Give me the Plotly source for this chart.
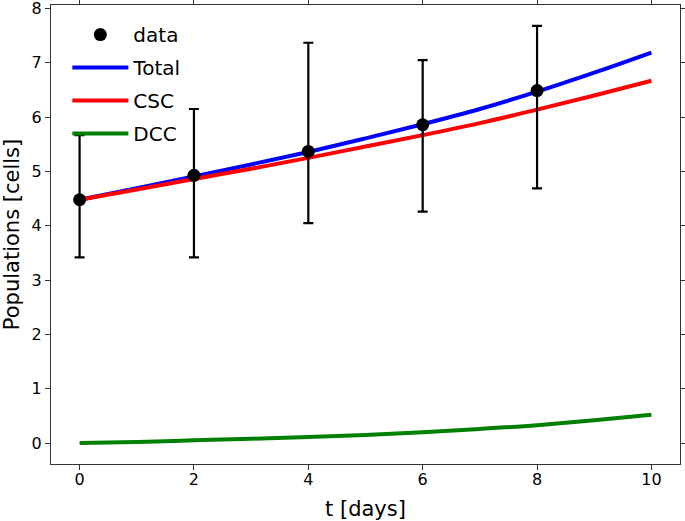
import plotly.graph_objects as go

# model curves
t_model = [0, 1, 2, 3, 4, 5, 6, 7, 8, 9, 10]
total_vals = [4.48, 4.69, 4.91, 5.13, 5.36, 5.61, 5.87, 6.15, 6.47, 6.82, 7.19]
csc_vals = [4.48, 4.67, 4.86, 5.05, 5.25, 5.46, 5.67, 5.89, 6.14, 6.40, 6.67]
dcc_vals = [0.00, 0.02, 0.05, 0.08, 0.11, 0.15, 0.20, 0.26, 0.33, 0.42, 0.52]

# observed data with asymmetric error bars
t_data = [0, 2, 4, 6, 8]
y_data = [4.48, 4.93, 5.37, 5.86, 6.49]
y_upper = [5.67, 6.15, 7.37, 7.05, 7.68]
y_lower = [3.42, 3.42, 4.05, 4.26, 4.69]

x_ticks = [0, 2, 4, 6, 8, 10]
y_ticks = [0, 1, 2, 3, 4, 5, 6, 7, 8]

err_plus = [u - y for u, y in zip(y_upper, y_data)]
err_minus = [y - l for l, y in zip(y_lower, y_data)]

FONT = "DejaVu Sans"

fig = go.Figure()
fig.add_trace(go.Scatter(x=t_model, y=total_vals, mode="lines", name="Total",
                         line=dict(color="#0000ff", width=4, shape="spline"),
                         legendgroup="b", legendrank=2))
fig.add_trace(go.Scatter(x=t_model, y=csc_vals, mode="lines", name="CSC",
                         line=dict(color="#ff0000", width=4, shape="spline"),
                         legendgroup="c", legendrank=3))
fig.add_trace(go.Scatter(x=t_model, y=dcc_vals, mode="lines", name="DCC",
                         line=dict(color="#008000", width=4, shape="spline"),
                         legendgroup="d", legendrank=4))
fig.add_trace(go.Scatter(x=t_data, y=y_data, mode="markers", name="data",
                         marker=dict(color="black", size=13),
                         error_y=dict(type="data", symmetric=False, array=err_plus,
                                      arrayminus=err_minus, color="black",
                                      thickness=2.2, width=5),
                         legendgroup="a", legendrank=1))

axis_common = dict(
    showgrid=False, zeroline=False, showline=True, linecolor="#333333", linewidth=1,
    mirror="allticks", ticks="outside", ticklen=5, tickcolor="#333333", tickwidth=1,
    tickfont=dict(family=FONT, size=16, color="black"), automargin=False,
    ticklabeloverflow="allow",
)

fig.update_layout(
    template="none",
    width=685, height=521,
    margin=dict(l=51, r=5, t=5, b=57, autoexpand=False),
    paper_bgcolor="white", plot_bgcolor="white",
    font=dict(family=FONT, color="black"),
    xaxis=dict(range=[-0.5, 10.5], tickvals=x_ticks, ticklabelstandoff=-4,
               title=dict(text="t [days]", font=dict(family=FONT, size=21)),
               **axis_common),
    yaxis=dict(range=[-0.385, 8.065], tickvals=y_ticks,
               title=dict(text="Populations [cells]", font=dict(family=FONT, size=21)),
               **axis_common),
    legend=dict(x=0.026, y=0.978, xanchor="left", yanchor="top",
                bgcolor="rgba(0,0,0,0)", font=dict(family=FONT, size=20),
                tracegroupgap=4, itemwidth=56),
    showlegend=True,
)

fig.write_html("out.html", config={"displayModeBar": False},
               post_script="document.body.style.margin='0';document.body.style.padding='0';")
